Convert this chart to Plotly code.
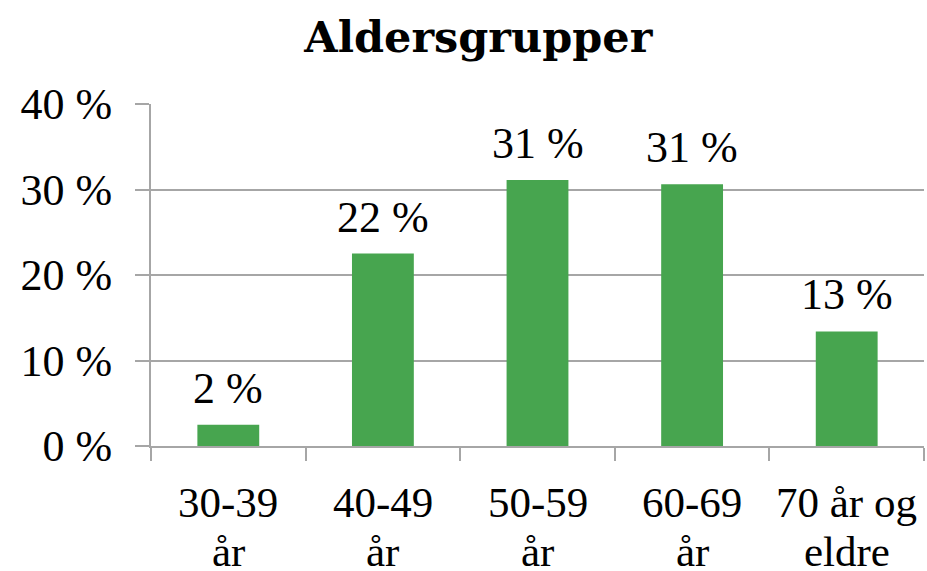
import plotly.graph_objects as go

categories = ["30-39 år", "40-49 år", "50-59 år", "60-69 år", "70 år og eldre"]
cat_line1 = ["30-39", "40-49", "50-59", "60-69", "70 år og"]
cat_line2 = ["år", "år", "år", "år", "eldre"]
values = [2.5, 22.5, 31.1, 30.6, 13.4]
labels = ["2 %", "22 %", "31 %", "31 %", "13 %"]
y_ticks = [0, 10, 20, 30, 40]
y_ticktext = ["0 %", "10 %", "20 %", "30 %", "40 %"]

FONT = "Liberation Serif"
TFONT = "DejaVu Serif"
GRID = "#A6A6A6"
FS = 44

fig = go.Figure()
fig.add_trace(go.Bar(x=categories, y=values, marker_color="#47A54F",
                     marker_line_width=0, showlegend=False))

# value labels above bars
for c, v, t in zip(categories, values, labels):
    fig.add_annotation(x=c, y=v, text=t, showarrow=False, yanchor="bottom",
                       yshift=10, font=dict(family=FONT, size=FS, color="black"))

# two-line category labels (tighter line spacing than plotly's <br>)
for c, l1, l2 in zip(categories, cat_line1, cat_line2):
    fig.add_annotation(x=c, y=0, yref="paper", text=l1, showarrow=False, borderpad=0,
                       yanchor="top", yshift=-32, font=dict(family=FONT, size=43, color="black"))
    fig.add_annotation(x=c, y=0, yref="paper", text=l2, showarrow=False, borderpad=0,
                       yanchor="top", yshift=-81, font=dict(family=FONT, size=43, color="black"))

fig.update_layout(
    width=927, height=571,
    title=dict(text="<b>Aldersgrupper</b>", x=0.516, xanchor="center",
               xref="container", y=0.962, yanchor="top", yref="container",
               font=dict(family=TFONT, size=43, color="black")),
    plot_bgcolor="white", paper_bgcolor="white",
    bargap=0.6,
    margin=dict(l=151, r=3, t=104, b=125, autoexpand=False),
    font=dict(family=FONT, size=FS, color="black"),
)
fig.update_xaxes(showline=True, linecolor=GRID, linewidth=2,
                 ticks="outside", tickson="boundaries", ticklen=13,
                 tickcolor=GRID, tickwidth=2, showticklabels=False,
                 automargin=False)
fig.update_yaxes(range=[0, 40], tickvals=y_ticks, ticktext=y_ticktext,
                 showgrid=True, gridcolor=GRID, gridwidth=2,
                 showline=True, linecolor=GRID, linewidth=2,
                 ticks="outside", ticklen=14, tickcolor=GRID, tickwidth=2,
                 ticklabelstandoff=14, zeroline=False, automargin=False,
                 tickfont=dict(family=FONT, size=FS, color="black"))

fig.write_html("out.html", config={"displayModeBar": False},
               post_script="document.body.style.margin='0';")
